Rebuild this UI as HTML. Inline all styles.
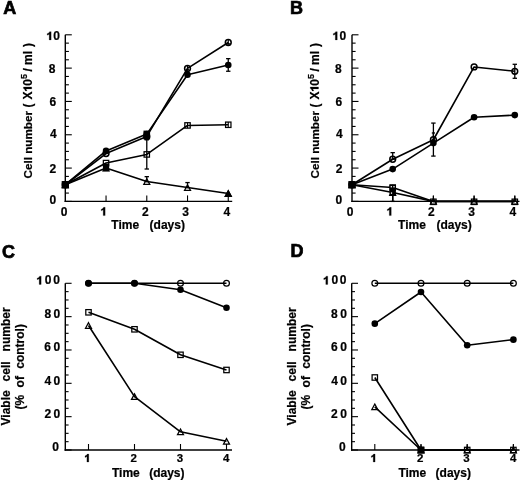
<!DOCTYPE html>
<html><head><meta charset="utf-8"><style>
html,body{margin:0;padding:0;background:#fff;}
svg{display:block;will-change:transform;}
svg text{font-family:"Liberation Sans", sans-serif;font-weight:bold;fill:#000;stroke:#000;stroke-width:0.22px;}
svg text.pl{stroke-width:0.7px;}
</style></head><body>
<svg width="520" height="481" viewBox="0 0 520 481">
<rect width="520" height="481" fill="#fff"/>
<text x="3.30" y="13.80" font-size="18" text-anchor="start" class="pl">A</text>
<text x="289.90" y="13.80" font-size="18" text-anchor="start" class="pl">B</text>
<text x="2.00" y="257.90" font-size="18" text-anchor="start" class="pl">C</text>
<text x="290.60" y="256.90" font-size="18" text-anchor="start" class="pl">D</text>
<line x1="65.30" y1="34.80" x2="65.30" y2="202.10" stroke="#000" stroke-width="1.4"/>
<line x1="64.60" y1="201.40" x2="232.20" y2="201.40" stroke="#000" stroke-width="1.4"/>
<line x1="65.30" y1="201.40" x2="71.80" y2="201.40" stroke="#000" stroke-width="1.1"/>
<line x1="65.30" y1="193.07" x2="68.90" y2="193.07" stroke="#000" stroke-width="1.1"/>
<line x1="65.30" y1="184.74" x2="68.90" y2="184.74" stroke="#000" stroke-width="1.1"/>
<line x1="65.30" y1="176.41" x2="68.90" y2="176.41" stroke="#000" stroke-width="1.1"/>
<line x1="65.30" y1="168.08" x2="71.80" y2="168.08" stroke="#000" stroke-width="1.1"/>
<line x1="65.30" y1="159.75" x2="68.90" y2="159.75" stroke="#000" stroke-width="1.1"/>
<line x1="65.30" y1="151.42" x2="68.90" y2="151.42" stroke="#000" stroke-width="1.1"/>
<line x1="65.30" y1="143.09" x2="68.90" y2="143.09" stroke="#000" stroke-width="1.1"/>
<line x1="65.30" y1="134.76" x2="71.80" y2="134.76" stroke="#000" stroke-width="1.1"/>
<line x1="65.30" y1="126.43" x2="68.90" y2="126.43" stroke="#000" stroke-width="1.1"/>
<line x1="65.30" y1="118.10" x2="68.90" y2="118.10" stroke="#000" stroke-width="1.1"/>
<line x1="65.30" y1="109.77" x2="68.90" y2="109.77" stroke="#000" stroke-width="1.1"/>
<line x1="65.30" y1="101.44" x2="71.80" y2="101.44" stroke="#000" stroke-width="1.1"/>
<line x1="65.30" y1="93.11" x2="68.90" y2="93.11" stroke="#000" stroke-width="1.1"/>
<line x1="65.30" y1="84.78" x2="68.90" y2="84.78" stroke="#000" stroke-width="1.1"/>
<line x1="65.30" y1="76.45" x2="68.90" y2="76.45" stroke="#000" stroke-width="1.1"/>
<line x1="65.30" y1="68.12" x2="71.80" y2="68.12" stroke="#000" stroke-width="1.1"/>
<line x1="65.30" y1="59.79" x2="68.90" y2="59.79" stroke="#000" stroke-width="1.1"/>
<line x1="65.30" y1="51.46" x2="68.90" y2="51.46" stroke="#000" stroke-width="1.1"/>
<line x1="65.30" y1="43.13" x2="68.90" y2="43.13" stroke="#000" stroke-width="1.1"/>
<line x1="65.30" y1="34.80" x2="71.80" y2="34.80" stroke="#000" stroke-width="1.1"/>
<line x1="106.04" y1="201.40" x2="106.04" y2="195.40" stroke="#000" stroke-width="1.1"/>
<line x1="146.78" y1="201.40" x2="146.78" y2="195.40" stroke="#000" stroke-width="1.1"/>
<line x1="187.52" y1="201.40" x2="187.52" y2="195.40" stroke="#000" stroke-width="1.1"/>
<line x1="228.26" y1="201.40" x2="228.26" y2="195.40" stroke="#000" stroke-width="1.1"/>
<path transform="translate(47.20,39.90) scale(1.0)" d="M2.0,0 L3.95,0 L3.95,-8.26 L2.35,-8.26 C2.0,-7.3 1.1,-6.6 0,-6.35 L0,-4.75 C0.8,-4.9 1.5,-5.3 2.0,-5.75 Z" fill="#000" stroke="#000" stroke-width="0.220"/>
<text x="53.33" y="40.00" font-size="12" text-anchor="start" >0</text>
<text x="48.82" y="72.90" font-size="12" text-anchor="start" >8</text>
<text x="49.46" y="105.60" font-size="12" text-anchor="start" >6</text>
<text x="50.02" y="137.80" font-size="12" text-anchor="start" >4</text>
<text x="49.58" y="172.60" font-size="12" text-anchor="start" >2</text>
<text x="49.43" y="204.00" font-size="12" text-anchor="start" >0</text>
<text x="60.73" y="215.50" font-size="12" text-anchor="start" >0</text>
<text x="141.98" y="215.50" font-size="12" text-anchor="start" >2</text>
<text x="182.22" y="215.50" font-size="12" text-anchor="start" >3</text>
<text x="223.42" y="215.50" font-size="12" text-anchor="start" >4</text>
<path transform="translate(101.20,215.60) scale(1.0)" d="M2.0,0 L3.95,0 L3.95,-8.26 L2.35,-8.26 C2.0,-7.3 1.1,-6.6 0,-6.35 L0,-4.75 C0.8,-4.9 1.5,-5.3 2.0,-5.75 Z" fill="#000" stroke="#000" stroke-width="0.220"/>
<text x="111.30" y="228.50" font-size="12" text-anchor="start" >Time</text>
<text x="149.60" y="228.50" font-size="12" text-anchor="start" >(days)</text>
<text transform="translate(31.70,178.48) rotate(-90)" font-size="11.7" xml:space="preserve">Cell number</text>
<text transform="translate(31.70,107.60) rotate(-90)" font-size="12" xml:space="preserve">(</text>
<text transform="translate(31.70,99.41) rotate(-90)" font-size="12" xml:space="preserve">X</text>
<path transform="translate(31.70,90.90) rotate(-90)" d="M2.0,0 L3.95,0 L3.95,-8.26 L2.35,-8.26 C2.0,-7.3 1.1,-6.6 0,-6.35 L0,-4.75 C0.8,-4.9 1.5,-5.3 2.0,-5.75 Z" fill="#000" stroke="#000" stroke-width="0.22"/>
<text transform="translate(31.70,85.67) rotate(-90)" font-size="12" xml:space="preserve">0</text>
<text transform="translate(27.10,79.10) rotate(-90)" font-size="9">5</text>
<text transform="translate(31.70,71.42) rotate(-90)" font-size="12" xml:space="preserve">/</text>
<text transform="translate(31.70,64.99) rotate(-90)" font-size="12" xml:space="preserve">ml</text>
<text transform="translate(31.70,47.11) rotate(-90)" font-size="12" xml:space="preserve">)</text>
<polyline points="65.30,184.74 106.04,153.59 146.78,136.43 187.52,68.45 228.26,42.46" fill="none" stroke="#000" stroke-width="1.6" stroke-linejoin="round"/>
<polyline points="65.30,184.74 106.04,150.92 146.78,134.09 187.52,74.78 228.26,64.95" fill="none" stroke="#000" stroke-width="1.6" stroke-linejoin="round"/>
<polyline points="65.30,184.74 106.04,163.08 146.78,154.42 187.52,125.43 228.26,124.76" fill="none" stroke="#000" stroke-width="1.6" stroke-linejoin="round"/>
<polyline points="65.30,184.74 106.04,168.08 146.78,181.57 187.52,187.57 228.26,193.57" fill="none" stroke="#000" stroke-width="1.6" stroke-linejoin="round"/>
<line x1="228.26" y1="58.65" x2="228.26" y2="71.25" stroke="#000" stroke-width="1.3"/>
<line x1="226.06" y1="58.65" x2="230.46" y2="58.65" stroke="#000" stroke-width="1.3"/>
<line x1="226.06" y1="71.25" x2="230.46" y2="71.25" stroke="#000" stroke-width="1.3"/>
<line x1="146.78" y1="139.82" x2="146.78" y2="169.02" stroke="#000" stroke-width="1.3"/>
<line x1="144.58" y1="139.82" x2="148.98" y2="139.82" stroke="#000" stroke-width="1.3"/>
<line x1="144.58" y1="169.02" x2="148.98" y2="169.02" stroke="#000" stroke-width="1.3"/>
<line x1="146.78" y1="176.67" x2="146.78" y2="181.57" stroke="#000" stroke-width="1.3"/>
<line x1="144.58" y1="176.67" x2="148.98" y2="176.67" stroke="#000" stroke-width="1.3"/>
<line x1="144.58" y1="181.57" x2="148.98" y2="181.57" stroke="#000" stroke-width="1.3"/>
<line x1="187.52" y1="182.57" x2="187.52" y2="187.57" stroke="#000" stroke-width="1.3"/>
<line x1="185.32" y1="182.57" x2="189.72" y2="182.57" stroke="#000" stroke-width="1.3"/>
<line x1="185.32" y1="187.57" x2="189.72" y2="187.57" stroke="#000" stroke-width="1.3"/>
<path d="M65.30,181.94 L68.30,187.54 L62.30,187.54 Z" fill="none" stroke="#000" stroke-width="1.25" stroke-linejoin="miter"/>
<path d="M106.04,165.28 L109.04,170.88 L103.04,170.88 Z" fill="none" stroke="#000" stroke-width="1.25" stroke-linejoin="miter"/>
<path d="M146.78,178.77 L149.78,184.37 L143.78,184.37 Z" fill="none" stroke="#000" stroke-width="1.25" stroke-linejoin="miter"/>
<path d="M187.52,184.77 L190.52,190.37 L184.52,190.37 Z" fill="none" stroke="#000" stroke-width="1.25" stroke-linejoin="miter"/>
<path d="M228.26,190.77 L231.26,196.37 L225.26,196.37 Z" fill="none" stroke="#000" stroke-width="1.25" stroke-linejoin="miter"/>
<rect x="62.60" y="182.04" width="5.4" height="5.4" fill="none" stroke="#000" stroke-width="1.25"/>
<rect x="103.34" y="160.38" width="5.4" height="5.4" fill="none" stroke="#000" stroke-width="1.25"/>
<rect x="144.08" y="151.72" width="5.4" height="5.4" fill="none" stroke="#000" stroke-width="1.25"/>
<rect x="184.82" y="122.73" width="5.4" height="5.4" fill="none" stroke="#000" stroke-width="1.25"/>
<rect x="225.56" y="122.06" width="5.4" height="5.4" fill="none" stroke="#000" stroke-width="1.25"/>
<line x1="187.52" y1="122.73" x2="187.52" y2="128.13" stroke="#000" stroke-width="1.1"/>
<line x1="228.26" y1="122.06" x2="228.26" y2="127.46" stroke="#000" stroke-width="1.1"/>
<circle cx="65.30" cy="184.74" r="2.9" fill="none" stroke="#000" stroke-width="1.55"/>
<circle cx="106.04" cy="153.59" r="2.9" fill="none" stroke="#000" stroke-width="1.55"/>
<circle cx="146.78" cy="136.43" r="2.9" fill="none" stroke="#000" stroke-width="1.55"/>
<circle cx="187.52" cy="68.45" r="2.9" fill="none" stroke="#000" stroke-width="1.55"/>
<circle cx="228.26" cy="42.46" r="2.9" fill="none" stroke="#000" stroke-width="1.55"/>
<circle cx="65.30" cy="184.74" r="3.3" fill="#000"/>
<circle cx="106.04" cy="150.92" r="3.3" fill="#000"/>
<circle cx="146.78" cy="134.09" r="3.3" fill="#000"/>
<circle cx="187.52" cy="74.78" r="3.3" fill="#000"/>
<circle cx="228.26" cy="64.95" r="3.3" fill="#000"/>
<path d="M228.26,190.77 L231.26,196.37 L225.26,196.37 Z" fill="#000" stroke="#000" stroke-width="1.25" stroke-linejoin="miter"/>
<rect x="62.30" y="181.74" width="6.0" height="6.0" fill="#000" stroke="#000" stroke-width="1.25"/>
<rect x="102.94" y="163.68" width="6.20" height="7.50" fill="#000"/>
<rect x="143.48" y="130.60" width="6.60" height="8.80" fill="#000"/>
<line x1="228.26" y1="40.06" x2="228.26" y2="44.86" stroke="#000" stroke-width="1.2"/>
<line x1="226.66" y1="43.66" x2="229.86" y2="43.66" stroke="#000" stroke-width="1.1"/>
<line x1="187.52" y1="66.05" x2="187.52" y2="70.85" stroke="#000" stroke-width="1.2"/>
<line x1="185.92" y1="69.65" x2="189.12" y2="69.65" stroke="#000" stroke-width="1.1"/>
<line x1="352.00" y1="34.80" x2="352.00" y2="202.10" stroke="#000" stroke-width="1.4"/>
<line x1="351.30" y1="201.40" x2="519.50" y2="201.40" stroke="#000" stroke-width="1.4"/>
<line x1="352.00" y1="201.40" x2="358.50" y2="201.40" stroke="#000" stroke-width="1.1"/>
<line x1="352.00" y1="193.07" x2="355.60" y2="193.07" stroke="#000" stroke-width="1.1"/>
<line x1="352.00" y1="184.74" x2="355.60" y2="184.74" stroke="#000" stroke-width="1.1"/>
<line x1="352.00" y1="176.41" x2="355.60" y2="176.41" stroke="#000" stroke-width="1.1"/>
<line x1="352.00" y1="168.08" x2="358.50" y2="168.08" stroke="#000" stroke-width="1.1"/>
<line x1="352.00" y1="159.75" x2="355.60" y2="159.75" stroke="#000" stroke-width="1.1"/>
<line x1="352.00" y1="151.42" x2="355.60" y2="151.42" stroke="#000" stroke-width="1.1"/>
<line x1="352.00" y1="143.09" x2="355.60" y2="143.09" stroke="#000" stroke-width="1.1"/>
<line x1="352.00" y1="134.76" x2="358.50" y2="134.76" stroke="#000" stroke-width="1.1"/>
<line x1="352.00" y1="126.43" x2="355.60" y2="126.43" stroke="#000" stroke-width="1.1"/>
<line x1="352.00" y1="118.10" x2="355.60" y2="118.10" stroke="#000" stroke-width="1.1"/>
<line x1="352.00" y1="109.77" x2="355.60" y2="109.77" stroke="#000" stroke-width="1.1"/>
<line x1="352.00" y1="101.44" x2="358.50" y2="101.44" stroke="#000" stroke-width="1.1"/>
<line x1="352.00" y1="93.11" x2="355.60" y2="93.11" stroke="#000" stroke-width="1.1"/>
<line x1="352.00" y1="84.78" x2="355.60" y2="84.78" stroke="#000" stroke-width="1.1"/>
<line x1="352.00" y1="76.45" x2="355.60" y2="76.45" stroke="#000" stroke-width="1.1"/>
<line x1="352.00" y1="68.12" x2="358.50" y2="68.12" stroke="#000" stroke-width="1.1"/>
<line x1="352.00" y1="59.79" x2="355.60" y2="59.79" stroke="#000" stroke-width="1.1"/>
<line x1="352.00" y1="51.46" x2="355.60" y2="51.46" stroke="#000" stroke-width="1.1"/>
<line x1="352.00" y1="43.13" x2="355.60" y2="43.13" stroke="#000" stroke-width="1.1"/>
<line x1="352.00" y1="34.80" x2="358.50" y2="34.80" stroke="#000" stroke-width="1.1"/>
<line x1="392.70" y1="201.40" x2="392.70" y2="195.40" stroke="#000" stroke-width="1.1"/>
<line x1="433.40" y1="201.40" x2="433.40" y2="195.40" stroke="#000" stroke-width="1.1"/>
<line x1="474.10" y1="201.40" x2="474.10" y2="195.40" stroke="#000" stroke-width="1.1"/>
<line x1="514.80" y1="201.40" x2="514.80" y2="195.40" stroke="#000" stroke-width="1.1"/>
<path transform="translate(333.30,39.90) scale(1.0)" d="M2.0,0 L3.95,0 L3.95,-8.26 L2.35,-8.26 C2.0,-7.3 1.1,-6.6 0,-6.35 L0,-4.75 C0.8,-4.9 1.5,-5.3 2.0,-5.75 Z" fill="#000" stroke="#000" stroke-width="0.220"/>
<text x="339.43" y="40.00" font-size="12" text-anchor="start" >0</text>
<text x="334.92" y="72.90" font-size="12" text-anchor="start" >8</text>
<text x="335.56" y="105.60" font-size="12" text-anchor="start" >6</text>
<text x="336.12" y="137.80" font-size="12" text-anchor="start" >4</text>
<text x="335.68" y="172.60" font-size="12" text-anchor="start" >2</text>
<text x="335.53" y="204.00" font-size="12" text-anchor="start" >0</text>
<text x="346.83" y="215.50" font-size="12" text-anchor="start" >0</text>
<text x="428.08" y="215.50" font-size="12" text-anchor="start" >2</text>
<text x="468.32" y="215.50" font-size="12" text-anchor="start" >3</text>
<text x="509.52" y="215.50" font-size="12" text-anchor="start" >4</text>
<path transform="translate(387.30,215.60) scale(1.0)" d="M2.0,0 L3.95,0 L3.95,-8.26 L2.35,-8.26 C2.0,-7.3 1.1,-6.6 0,-6.35 L0,-4.75 C0.8,-4.9 1.5,-5.3 2.0,-5.75 Z" fill="#000" stroke="#000" stroke-width="0.220"/>
<text x="398.10" y="228.50" font-size="12" text-anchor="start" >Time</text>
<text x="436.40" y="228.50" font-size="12" text-anchor="start" >(days)</text>
<text transform="translate(318.50,178.48) rotate(-90)" font-size="11.7" xml:space="preserve">Cell number</text>
<text transform="translate(318.50,107.60) rotate(-90)" font-size="12" xml:space="preserve">(</text>
<text transform="translate(318.50,99.41) rotate(-90)" font-size="12" xml:space="preserve">X</text>
<path transform="translate(318.50,90.90) rotate(-90)" d="M2.0,0 L3.95,0 L3.95,-8.26 L2.35,-8.26 C2.0,-7.3 1.1,-6.6 0,-6.35 L0,-4.75 C0.8,-4.9 1.5,-5.3 2.0,-5.75 Z" fill="#000" stroke="#000" stroke-width="0.22"/>
<text transform="translate(318.50,85.67) rotate(-90)" font-size="12" xml:space="preserve">0</text>
<text transform="translate(313.90,79.10) rotate(-90)" font-size="9">5</text>
<text transform="translate(318.50,71.42) rotate(-90)" font-size="12" xml:space="preserve">/</text>
<text transform="translate(318.50,64.99) rotate(-90)" font-size="12" xml:space="preserve">ml</text>
<text transform="translate(318.50,47.11) rotate(-90)" font-size="12" xml:space="preserve">)</text>
<polyline points="352.00,184.74 392.70,159.25 433.40,139.76 474.10,66.95 514.80,71.29" fill="none" stroke="#000" stroke-width="1.6" stroke-linejoin="round"/>
<polyline points="352.00,184.74 392.70,169.08 433.40,143.09 474.10,117.27 514.80,115.10" fill="none" stroke="#000" stroke-width="1.6" stroke-linejoin="round"/>
<polyline points="352.00,184.74 392.70,187.57 433.40,201.40 474.10,201.40 514.80,201.40" fill="none" stroke="#000" stroke-width="1.6" stroke-linejoin="round"/>
<polyline points="352.00,184.74 392.70,192.57 433.40,201.40 474.10,201.40 514.80,201.40" fill="none" stroke="#000" stroke-width="1.6" stroke-linejoin="round"/>
<line x1="514.80" y1="64.29" x2="514.80" y2="78.29" stroke="#000" stroke-width="1.3"/>
<line x1="512.60" y1="64.29" x2="517.00" y2="64.29" stroke="#000" stroke-width="1.3"/>
<line x1="512.60" y1="78.29" x2="517.00" y2="78.29" stroke="#000" stroke-width="1.3"/>
<line x1="392.70" y1="152.65" x2="392.70" y2="159.25" stroke="#000" stroke-width="1.3"/>
<line x1="390.50" y1="152.65" x2="394.90" y2="152.65" stroke="#000" stroke-width="1.3"/>
<line x1="390.50" y1="159.25" x2="394.90" y2="159.25" stroke="#000" stroke-width="1.3"/>
<line x1="433.40" y1="123.09" x2="433.40" y2="156.09" stroke="#000" stroke-width="1.3"/>
<line x1="431.20" y1="123.09" x2="435.60" y2="123.09" stroke="#000" stroke-width="1.3"/>
<line x1="431.20" y1="156.09" x2="435.60" y2="156.09" stroke="#000" stroke-width="1.3"/>
<line x1="392.70" y1="192.57" x2="392.70" y2="201.40" stroke="#000" stroke-width="1.3"/>
<line x1="390.50" y1="192.57" x2="394.90" y2="192.57" stroke="#000" stroke-width="1.3"/>
<line x1="390.50" y1="201.40" x2="394.90" y2="201.40" stroke="#000" stroke-width="1.3"/>
<line x1="433.40" y1="195.80" x2="433.40" y2="201.40" stroke="#000" stroke-width="1.2"/>
<line x1="474.10" y1="195.80" x2="474.10" y2="201.40" stroke="#000" stroke-width="1.2"/>
<line x1="514.80" y1="195.80" x2="514.80" y2="201.40" stroke="#000" stroke-width="1.2"/>
<path d="M352.00,181.94 L355.00,187.54 L349.00,187.54 Z" fill="none" stroke="#000" stroke-width="1.25" stroke-linejoin="miter"/>
<path d="M392.70,189.77 L395.70,195.37 L389.70,195.37 Z" fill="none" stroke="#000" stroke-width="1.25" stroke-linejoin="miter"/>
<path d="M433.40,198.60 L436.40,204.20 L430.40,204.20 Z" fill="none" stroke="#000" stroke-width="1.25" stroke-linejoin="miter"/>
<path d="M474.10,198.60 L477.10,204.20 L471.10,204.20 Z" fill="none" stroke="#000" stroke-width="1.25" stroke-linejoin="miter"/>
<path d="M514.80,198.60 L517.80,204.20 L511.80,204.20 Z" fill="none" stroke="#000" stroke-width="1.25" stroke-linejoin="miter"/>
<rect x="349.30" y="182.04" width="5.4" height="5.4" fill="none" stroke="#000" stroke-width="1.25"/>
<rect x="390.00" y="184.87" width="5.4" height="5.4" fill="none" stroke="#000" stroke-width="1.25"/>
<rect x="430.70" y="199.10" width="5.4" height="5.4" fill="none" stroke="#000" stroke-width="1.25"/>
<rect x="471.40" y="199.10" width="5.4" height="5.4" fill="none" stroke="#000" stroke-width="1.25"/>
<rect x="512.10" y="199.10" width="5.4" height="5.4" fill="none" stroke="#000" stroke-width="1.25"/>
<circle cx="352.00" cy="184.74" r="2.9" fill="none" stroke="#000" stroke-width="1.5"/>
<circle cx="392.70" cy="159.25" r="2.9" fill="none" stroke="#000" stroke-width="1.5"/>
<circle cx="433.40" cy="139.76" r="2.9" fill="none" stroke="#000" stroke-width="1.5"/>
<circle cx="474.10" cy="66.95" r="2.9" fill="none" stroke="#000" stroke-width="1.5"/>
<circle cx="514.80" cy="71.29" r="2.9" fill="none" stroke="#000" stroke-width="1.5"/>
<circle cx="352.00" cy="184.74" r="3.3" fill="#000"/>
<circle cx="392.70" cy="169.08" r="3.3" fill="#000"/>
<circle cx="433.40" cy="143.09" r="3.3" fill="#000"/>
<circle cx="474.10" cy="117.27" r="3.3" fill="#000"/>
<circle cx="514.80" cy="115.10" r="3.3" fill="#000"/>
<rect x="349.00" y="181.74" width="6.0" height="6.0" fill="#000" stroke="#000" stroke-width="1.25"/>
<line x1="392.70" y1="184.87" x2="392.70" y2="201.40" stroke="#000" stroke-width="1.3"/>
<rect x="389.50" y="184.80" width="6.40" height="10.60" fill="#000"/>
<rect x="390.70" y="186.00" width="1.20" height="1.40" fill="#fff"/>
<rect x="393.40" y="186.00" width="1.20" height="1.40" fill="#fff"/>
<rect x="390.90" y="192.40" width="1.20" height="1.40" fill="#fff"/>
<line x1="433.40" y1="132.96" x2="433.40" y2="139.76" stroke="#000" stroke-width="1.3"/>
<line x1="431.80" y1="132.96" x2="435.00" y2="132.96" stroke="#000" stroke-width="1.3"/>
<line x1="431.80" y1="139.76" x2="435.00" y2="139.76" stroke="#000" stroke-width="1.3"/>
<line x1="65.30" y1="283.30" x2="65.30" y2="450.70" stroke="#000" stroke-width="1.4"/>
<line x1="64.60" y1="450.00" x2="232.00" y2="450.00" stroke="#000" stroke-width="1.4"/>
<line x1="65.30" y1="450.00" x2="71.60" y2="450.00" stroke="#000" stroke-width="1.1"/>
<line x1="65.30" y1="441.67" x2="68.60" y2="441.67" stroke="#000" stroke-width="1.1"/>
<line x1="65.30" y1="433.33" x2="68.60" y2="433.33" stroke="#000" stroke-width="1.1"/>
<line x1="65.30" y1="425.00" x2="68.60" y2="425.00" stroke="#000" stroke-width="1.1"/>
<line x1="65.30" y1="416.66" x2="71.60" y2="416.66" stroke="#000" stroke-width="1.1"/>
<line x1="65.30" y1="408.32" x2="68.60" y2="408.32" stroke="#000" stroke-width="1.1"/>
<line x1="65.30" y1="399.99" x2="68.60" y2="399.99" stroke="#000" stroke-width="1.1"/>
<line x1="65.30" y1="391.65" x2="68.60" y2="391.65" stroke="#000" stroke-width="1.1"/>
<line x1="65.30" y1="383.32" x2="71.60" y2="383.32" stroke="#000" stroke-width="1.1"/>
<line x1="65.30" y1="374.99" x2="68.60" y2="374.99" stroke="#000" stroke-width="1.1"/>
<line x1="65.30" y1="366.65" x2="68.60" y2="366.65" stroke="#000" stroke-width="1.1"/>
<line x1="65.30" y1="358.31" x2="68.60" y2="358.31" stroke="#000" stroke-width="1.1"/>
<line x1="65.30" y1="349.98" x2="71.60" y2="349.98" stroke="#000" stroke-width="1.1"/>
<line x1="65.30" y1="341.64" x2="68.60" y2="341.64" stroke="#000" stroke-width="1.1"/>
<line x1="65.30" y1="333.31" x2="68.60" y2="333.31" stroke="#000" stroke-width="1.1"/>
<line x1="65.30" y1="324.98" x2="68.60" y2="324.98" stroke="#000" stroke-width="1.1"/>
<line x1="65.30" y1="316.64" x2="71.60" y2="316.64" stroke="#000" stroke-width="1.1"/>
<line x1="65.30" y1="308.31" x2="68.60" y2="308.31" stroke="#000" stroke-width="1.1"/>
<line x1="65.30" y1="299.97" x2="68.60" y2="299.97" stroke="#000" stroke-width="1.1"/>
<line x1="65.30" y1="291.63" x2="68.60" y2="291.63" stroke="#000" stroke-width="1.1"/>
<line x1="65.30" y1="283.30" x2="71.60" y2="283.30" stroke="#000" stroke-width="1.1"/>
<line x1="88.50" y1="450.00" x2="88.50" y2="444.00" stroke="#000" stroke-width="1.1"/>
<line x1="134.50" y1="450.00" x2="134.50" y2="444.00" stroke="#000" stroke-width="1.1"/>
<line x1="180.50" y1="450.00" x2="180.50" y2="444.00" stroke="#000" stroke-width="1.1"/>
<line x1="226.50" y1="450.00" x2="226.50" y2="444.00" stroke="#000" stroke-width="1.1"/>
<path transform="translate(37.20,284.40) scale(1.0)" d="M2.0,0 L3.95,0 L3.95,-8.26 L2.35,-8.26 C2.0,-7.3 1.1,-6.6 0,-6.35 L0,-4.75 C0.8,-4.9 1.5,-5.3 2.0,-5.75 Z" fill="#000" stroke="#000" stroke-width="0.220"/>
<text x="44.83" y="284.40" font-size="12" text-anchor="start" >0</text>
<text x="53.23" y="284.40" font-size="12" text-anchor="start" >0</text>
<text x="44.42" y="317.80" font-size="12" text-anchor="start" >8</text>
<text x="53.53" y="317.80" font-size="12" text-anchor="start" >0</text>
<text x="44.36" y="351.40" font-size="12" text-anchor="start" >6</text>
<text x="53.53" y="351.40" font-size="12" text-anchor="start" >0</text>
<text x="44.62" y="384.50" font-size="12" text-anchor="start" >4</text>
<text x="53.53" y="384.50" font-size="12" text-anchor="start" >0</text>
<text x="44.38" y="418.20" font-size="12" text-anchor="start" >2</text>
<text x="53.53" y="418.20" font-size="12" text-anchor="start" >0</text>
<text x="52.33" y="451.40" font-size="12" text-anchor="start" >0</text>
<path transform="translate(85.00,462.00) scale(0.9583333333333334)" d="M2.0,0 L3.95,0 L3.95,-8.26 L2.35,-8.26 C2.0,-7.3 1.1,-6.6 0,-6.35 L0,-4.75 C0.8,-4.9 1.5,-5.3 2.0,-5.75 Z" fill="#000" stroke="#000" stroke-width="0.230"/>
<text x="130.50" y="462.00" font-size="11.5" text-anchor="start" >2</text>
<text x="176.63" y="462.00" font-size="11.5" text-anchor="start" >3</text>
<text x="223.03" y="462.00" font-size="11.5" text-anchor="start" >4</text>
<text x="112.00" y="476.60" font-size="12" text-anchor="start" >Time</text>
<text x="149.20" y="476.60" font-size="12" text-anchor="start" >(days)</text>
<text transform="translate(9.50,425.48) rotate(-90)" font-size="12" xml:space="preserve">Viable</text>
<text transform="translate(9.50,381.44) rotate(-90)" font-size="12" xml:space="preserve">cell</text>
<text transform="translate(9.50,351.39) rotate(-90)" font-size="12" xml:space="preserve">number</text>
<text transform="translate(23.60,409.50) rotate(-90)" font-size="12" xml:space="preserve">(%</text>
<text transform="translate(23.60,387.40) rotate(-90)" font-size="12" xml:space="preserve">of</text>
<text transform="translate(23.60,368.74) rotate(-90)" font-size="12" xml:space="preserve">control)</text>
<polyline points="88.50,283.30 134.50,283.30 180.50,283.30 226.50,283.30" fill="none" stroke="#000" stroke-width="1.6" stroke-linejoin="round"/>
<polyline points="88.50,283.30 134.50,283.30 180.50,289.80 226.50,307.80" fill="none" stroke="#000" stroke-width="1.6" stroke-linejoin="round"/>
<polyline points="88.50,312.31 134.50,329.31 180.50,354.81 226.50,369.98" fill="none" stroke="#000" stroke-width="1.6" stroke-linejoin="round"/>
<polyline points="88.50,325.48 134.50,396.66 180.50,431.83 226.50,441.33" fill="none" stroke="#000" stroke-width="1.6" stroke-linejoin="round"/>
<path d="M88.50,322.68 L91.50,328.28 L85.50,328.28 Z" fill="none" stroke="#000" stroke-width="1.25" stroke-linejoin="miter"/>
<path d="M134.50,393.86 L137.50,399.46 L131.50,399.46 Z" fill="none" stroke="#000" stroke-width="1.25" stroke-linejoin="miter"/>
<path d="M180.50,429.03 L183.50,434.63 L177.50,434.63 Z" fill="none" stroke="#000" stroke-width="1.25" stroke-linejoin="miter"/>
<path d="M226.50,438.53 L229.50,444.13 L223.50,444.13 Z" fill="none" stroke="#000" stroke-width="1.25" stroke-linejoin="miter"/>
<rect x="85.80" y="309.61" width="5.4" height="5.4" fill="none" stroke="#000" stroke-width="1.25"/>
<rect x="131.80" y="326.61" width="5.4" height="5.4" fill="none" stroke="#000" stroke-width="1.25"/>
<rect x="177.80" y="352.11" width="5.4" height="5.4" fill="none" stroke="#000" stroke-width="1.25"/>
<rect x="223.80" y="367.28" width="5.4" height="5.4" fill="none" stroke="#000" stroke-width="1.25"/>
<circle cx="88.50" cy="283.30" r="2.9" fill="none" stroke="#000" stroke-width="1.25"/>
<circle cx="134.50" cy="283.30" r="2.9" fill="none" stroke="#000" stroke-width="1.25"/>
<circle cx="180.50" cy="283.30" r="2.9" fill="none" stroke="#000" stroke-width="1.25"/>
<circle cx="226.50" cy="283.30" r="2.9" fill="none" stroke="#000" stroke-width="1.25"/>
<circle cx="88.50" cy="283.30" r="3.3" fill="#000"/>
<circle cx="134.50" cy="283.30" r="3.3" fill="#000"/>
<circle cx="180.50" cy="289.80" r="3.3" fill="#000"/>
<circle cx="226.50" cy="307.80" r="3.3" fill="#000"/>
<line x1="351.70" y1="283.30" x2="351.70" y2="450.70" stroke="#000" stroke-width="1.4"/>
<line x1="351.00" y1="450.00" x2="519.50" y2="450.00" stroke="#000" stroke-width="1.4"/>
<line x1="351.70" y1="450.00" x2="358.00" y2="450.00" stroke="#000" stroke-width="1.1"/>
<line x1="351.70" y1="441.67" x2="355.00" y2="441.67" stroke="#000" stroke-width="1.1"/>
<line x1="351.70" y1="433.33" x2="355.00" y2="433.33" stroke="#000" stroke-width="1.1"/>
<line x1="351.70" y1="425.00" x2="355.00" y2="425.00" stroke="#000" stroke-width="1.1"/>
<line x1="351.70" y1="416.66" x2="358.00" y2="416.66" stroke="#000" stroke-width="1.1"/>
<line x1="351.70" y1="408.32" x2="355.00" y2="408.32" stroke="#000" stroke-width="1.1"/>
<line x1="351.70" y1="399.99" x2="355.00" y2="399.99" stroke="#000" stroke-width="1.1"/>
<line x1="351.70" y1="391.65" x2="355.00" y2="391.65" stroke="#000" stroke-width="1.1"/>
<line x1="351.70" y1="383.32" x2="358.00" y2="383.32" stroke="#000" stroke-width="1.1"/>
<line x1="351.70" y1="374.99" x2="355.00" y2="374.99" stroke="#000" stroke-width="1.1"/>
<line x1="351.70" y1="366.65" x2="355.00" y2="366.65" stroke="#000" stroke-width="1.1"/>
<line x1="351.70" y1="358.31" x2="355.00" y2="358.31" stroke="#000" stroke-width="1.1"/>
<line x1="351.70" y1="349.98" x2="358.00" y2="349.98" stroke="#000" stroke-width="1.1"/>
<line x1="351.70" y1="341.64" x2="355.00" y2="341.64" stroke="#000" stroke-width="1.1"/>
<line x1="351.70" y1="333.31" x2="355.00" y2="333.31" stroke="#000" stroke-width="1.1"/>
<line x1="351.70" y1="324.98" x2="355.00" y2="324.98" stroke="#000" stroke-width="1.1"/>
<line x1="351.70" y1="316.64" x2="358.00" y2="316.64" stroke="#000" stroke-width="1.1"/>
<line x1="351.70" y1="308.31" x2="355.00" y2="308.31" stroke="#000" stroke-width="1.1"/>
<line x1="351.70" y1="299.97" x2="355.00" y2="299.97" stroke="#000" stroke-width="1.1"/>
<line x1="351.70" y1="291.63" x2="355.00" y2="291.63" stroke="#000" stroke-width="1.1"/>
<line x1="351.70" y1="283.30" x2="358.00" y2="283.30" stroke="#000" stroke-width="1.1"/>
<line x1="374.80" y1="450.00" x2="374.80" y2="444.00" stroke="#000" stroke-width="1.1"/>
<line x1="421.00" y1="450.00" x2="421.00" y2="444.00" stroke="#000" stroke-width="1.1"/>
<line x1="467.20" y1="450.00" x2="467.20" y2="444.00" stroke="#000" stroke-width="1.1"/>
<line x1="513.40" y1="450.00" x2="513.40" y2="444.00" stroke="#000" stroke-width="1.1"/>
<path transform="translate(323.80,284.40) scale(1.0)" d="M2.0,0 L3.95,0 L3.95,-8.26 L2.35,-8.26 C2.0,-7.3 1.1,-6.6 0,-6.35 L0,-4.75 C0.8,-4.9 1.5,-5.3 2.0,-5.75 Z" fill="#000" stroke="#000" stroke-width="0.220"/>
<text x="331.43" y="284.40" font-size="12" text-anchor="start" >0</text>
<text x="339.83" y="284.40" font-size="12" text-anchor="start" >0</text>
<text x="331.02" y="317.80" font-size="12" text-anchor="start" >8</text>
<text x="340.13" y="317.80" font-size="12" text-anchor="start" >0</text>
<text x="330.96" y="351.40" font-size="12" text-anchor="start" >6</text>
<text x="340.13" y="351.40" font-size="12" text-anchor="start" >0</text>
<text x="331.22" y="384.50" font-size="12" text-anchor="start" >4</text>
<text x="340.13" y="384.50" font-size="12" text-anchor="start" >0</text>
<text x="330.98" y="418.20" font-size="12" text-anchor="start" >2</text>
<text x="340.13" y="418.20" font-size="12" text-anchor="start" >0</text>
<text x="338.93" y="451.40" font-size="12" text-anchor="start" >0</text>
<path transform="translate(371.30,462.00) scale(0.9583333333333334)" d="M2.0,0 L3.95,0 L3.95,-8.26 L2.35,-8.26 C2.0,-7.3 1.1,-6.6 0,-6.35 L0,-4.75 C0.8,-4.9 1.5,-5.3 2.0,-5.75 Z" fill="#000" stroke="#000" stroke-width="0.230"/>
<text x="417.00" y="462.00" font-size="11.5" text-anchor="start" >2</text>
<text x="463.33" y="462.00" font-size="11.5" text-anchor="start" >3</text>
<text x="509.93" y="462.00" font-size="11.5" text-anchor="start" >4</text>
<text x="398.40" y="476.60" font-size="12" text-anchor="start" >Time</text>
<text x="435.60" y="476.60" font-size="12" text-anchor="start" >(days)</text>
<text transform="translate(295.90,425.48) rotate(-90)" font-size="12" xml:space="preserve">Viable</text>
<text transform="translate(295.90,381.44) rotate(-90)" font-size="12" xml:space="preserve">cell</text>
<text transform="translate(295.90,351.39) rotate(-90)" font-size="12" xml:space="preserve">number</text>
<text transform="translate(310.00,409.50) rotate(-90)" font-size="12" xml:space="preserve">(%</text>
<text transform="translate(310.00,387.40) rotate(-90)" font-size="12" xml:space="preserve">of</text>
<text transform="translate(310.00,368.74) rotate(-90)" font-size="12" xml:space="preserve">control)</text>
<polyline points="374.80,283.30 421.00,283.30 467.20,283.30 513.40,283.30" fill="none" stroke="#000" stroke-width="1.6" stroke-linejoin="round"/>
<polyline points="374.80,323.64 421.00,291.97 467.20,345.31 513.40,339.64" fill="none" stroke="#000" stroke-width="1.6" stroke-linejoin="round"/>
<polyline points="374.80,377.49 421.00,450.00 467.20,450.00 513.40,450.00" fill="none" stroke="#000" stroke-width="1.6" stroke-linejoin="round"/>
<polyline points="374.80,406.82 421.00,450.00 467.20,450.00 513.40,450.00" fill="none" stroke="#000" stroke-width="1.6" stroke-linejoin="round"/>
<line x1="421.00" y1="444.40" x2="421.00" y2="450.00" stroke="#000" stroke-width="1.2"/>
<line x1="467.20" y1="444.40" x2="467.20" y2="450.00" stroke="#000" stroke-width="1.2"/>
<line x1="513.40" y1="444.40" x2="513.40" y2="450.00" stroke="#000" stroke-width="1.2"/>
<path d="M374.80,404.02 L377.80,409.62 L371.80,409.62 Z" fill="none" stroke="#000" stroke-width="1.25" stroke-linejoin="miter"/>
<path d="M421.00,447.20 L424.00,452.80 L418.00,452.80 Z" fill="none" stroke="#000" stroke-width="1.25" stroke-linejoin="miter"/>
<path d="M467.20,447.20 L470.20,452.80 L464.20,452.80 Z" fill="none" stroke="#000" stroke-width="1.25" stroke-linejoin="miter"/>
<path d="M513.40,447.20 L516.40,452.80 L510.40,452.80 Z" fill="none" stroke="#000" stroke-width="1.25" stroke-linejoin="miter"/>
<rect x="372.10" y="374.79" width="5.4" height="5.4" fill="none" stroke="#000" stroke-width="1.25"/>
<rect x="418.30" y="447.30" width="5.4" height="5.4" fill="none" stroke="#000" stroke-width="1.25"/>
<rect x="464.50" y="447.30" width="5.4" height="5.4" fill="none" stroke="#000" stroke-width="1.25"/>
<rect x="510.70" y="447.30" width="5.4" height="5.4" fill="none" stroke="#000" stroke-width="1.25"/>
<circle cx="374.80" cy="283.30" r="2.9" fill="none" stroke="#000" stroke-width="1.25"/>
<circle cx="421.00" cy="283.30" r="2.9" fill="none" stroke="#000" stroke-width="1.25"/>
<circle cx="467.20" cy="283.30" r="2.9" fill="none" stroke="#000" stroke-width="1.25"/>
<circle cx="513.40" cy="283.30" r="2.9" fill="none" stroke="#000" stroke-width="1.25"/>
<circle cx="374.80" cy="323.64" r="3.3" fill="#000"/>
<circle cx="421.00" cy="291.97" r="3.3" fill="#000"/>
<circle cx="467.20" cy="345.31" r="3.3" fill="#000"/>
<circle cx="513.40" cy="339.64" r="3.3" fill="#000"/>
<rect x="418.30" y="447.30" width="5.4" height="5.4" fill="#000" stroke="#000" stroke-width="1.25"/>
</svg>
</body></html>
